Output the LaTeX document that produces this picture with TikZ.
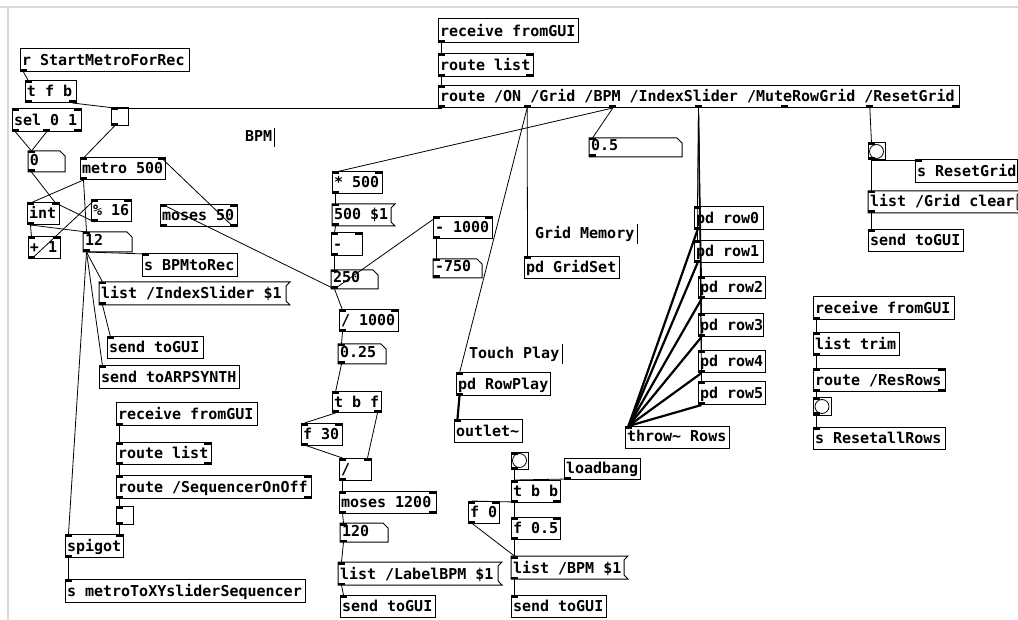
\documentclass[tikz,border=0pt]{standalone}
\usepackage{fontspec}
\setmonofont{DejaVu Sans Mono}
\usetikzlibrary{calc,fit}
\tikzset{
  hid/.style={inner sep=0pt, outer sep=0pt},
  box/.style={draw=black, line width=1pt},
  pdtxt/.style={anchor=base west, inner sep=0pt, outer sep=0pt, text=black, font=\fontsize{15}{15}\selectfont\ttfamily\bfseries},
  conn/.style={line width=0.8pt, draw=black},
  sig/.style={line width=2.2pt, draw=black},
  tab/.style={fill=black},
  frame/.style={draw=black!15, line width=2pt},
  cursor/.style={draw=black, line width=1pt},
}
\newcommand\pdnode[6]{\node[hid, fit={(#2,#3) (#4,#5)}] (#1) {};\node[pdtxt] (#1-t) at (#2+2,#5-6) {#6};}
\newcommand\pdio[3]{%
  \ifnum#2>0\relax
    \foreach \k in {1,...,#2}{%
      \pgfmathsetmacro\iot{(\k-1)/max(#2-1,1)}%
      \fill[tab] ($(#1.north west)!\iot!([xshift=-7pt]#1.north east)$) rectangle ++(7,2.5);}%
  \fi
  \ifnum#3>0\relax
    \foreach \k in {1,...,#3}{%
      \pgfmathsetmacro\iot{(\k-1)/max(#3-1,1)}%
      \fill[tab] ($(#1.south west)!\iot!([xshift=-7pt]#1.south east)$) rectangle ++(7,-2.5);}%
  \fi}
\newcommand\pdobj[8]{\pdnode{#1}{#2}{#3}{#4}{#5}{#6}\draw[box] (#1.north west) rectangle (#1.south east);\pdio{#1}{#7}{#8}}
\newcommand\pdmsg[6]{\pdnode{#1}{#2}{#3}{#4}{#5}{#6}\draw[box] (#1.north west) -- (#1.north east) -- ([xshift=-4pt,yshift=-4pt]#1.north east) -- ([xshift=-4pt,yshift=4pt]#1.south east) -- (#1.south east) -- (#1.south west) -- cycle;\pdio{#1}{1}{1}}
\newcommand\pdnum[6]{\pdnode{#1}{#2}{#3}{#4}{#5}{#6}\draw[box] (#1.north west) -- ([xshift=-5pt]#1.north east) -- ([yshift=-5pt]#1.north east) -- (#1.south east) -- (#1.south west) -- cycle;\pdio{#1}{1}{1}}
\newcommand\pdtgl[5]{\node[hid, fit={(#2,#3) (#4,#5)}] (#1) {};\draw[box] (#1.north west) rectangle (#1.south east);\pdio{#1}{1}{1}}
\newcommand\pdbng[5]{\node[hid, fit={(#2,#3) (#4,#5)}] (#1) {};\draw[box] (#1.north west) rectangle (#1.south east);\draw[line width=0.8pt] (#1.center) circle (7);\pdio{#1}{1}{1}}
\newcommand\pdcn[5][conn]{\draw[#1] ($(#2.south west)!#3!([xshift=-7pt]#2.south east)+(3.5,0)$) -- ($(#4.north west)!#5!([xshift=-7pt]#4.north east)+(3.5,0)$);}
\begin{document}
\begin{tikzpicture}[x=1pt,y=-1pt]
\useasboundingbox (0,0) rectangle (1018,620);
\draw[frame] (0,7) -- (1018,7);
\draw[frame] (8,7) -- (8,620);
% left cluster
\pdobj{rsm}{20}{49}{189}{72}{r StartMetroForRec}{0}{1}
\pdobj{tfb}{25}{81}{76}{103}{t f b}{1}{2}
\pdobj{sel}{12}{109}{81}{132}{sel 0 1}{2}{3}
\pdtgl{tgl1}{111}{108}{128}{126}
\pdnum{num0}{28}{151}{65}{172}{0}
\pdobj{metro}{80}{158}{165}{180}{metro 500}{2}{1}
\pdobj{int}{27}{203}{59}{225}{int}{2}{1}
\pdobj{mod}{91}{200}{131}{222}{\% 16}{2}{1}
\pdobj{plus}{28}{237}{60}{259}{+ 1}{2}{1}
\pdnum{n12}{83}{232}{132}{252}{12}
\pdobj{moses50}{160}{205}{237}{227}{moses 50}{2}{2}
\pdobj{sbpm}{142}{254}{237}{277}{s BPMtoRec}{1}{0}
\pdmsg{lidx}{99}{282}{290}{305}{list /IndexSlider \$1}
\pdobj{sgui1}{107}{337}{203}{359}{send toGUI}{1}{0}
\pdobj{sarp}{99}{366}{239}{389}{send toARPSYNTH}{1}{0}
\pdobj{rcv2}{116}{403}{257}{425}{receive fromGUI}{0}{1}
\pdobj{rl2}{116}{442}{211}{464}{route list}{2}{2}
\pdobj{rso}{116}{475}{311}{498}{route /SequencerOnOff}{2}{2}
\pdtgl{tgl2}{116}{506}{133}{524}
\pdobj{spig}{65}{534}{123}{557}{spigot}{2}{1}
\pdobj{smx}{65}{579}{305}{602}{s metroToXYsliderSequencer}{1}{0}
% centre
\pdobj{rcv1}{438}{19}{578}{43}{receive fromGUI}{0}{1}
\pdobj{rl1}{438}{54}{533}{77}{route list}{2}{2}
\pdobj{rte}{438}{86}{959}{108}{route /ON /Grid /BPM /IndexSlider /MuteRowGrid /ResetGrid}{1}{7}
\pdnum{n05}{589}{138}{682}{157}{0.5}
\pdobj{mul}{332}{172}{382}{194}{* 500}{2}{1}
\pdmsg{m500}{332}{204}{395}{226}{500 \$1}
\pdobj{minus}{331}{233}{362}{256}{-}{2}{1}
\pdnum{n250}{331}{270}{378}{289}{250}
\pdobj{m1000}{433}{217}{492}{239}{- 1000}{2}{1}
\pdnum{n750}{433}{259}{482}{278}{-750}
\pdobj{gridset}{524}{257}{619}{279}{pd GridSet}{1}{0}
\pdobj{div1000}{339}{310}{398}{332}{/ 1000}{2}{1}
\pdnum{n025}{338}{344}{386}{364}{0.25}
\pdobj{rowplay}{456}{373}{550}{396}{pd RowPlay}{1}{1}
\pdobj{tbf}{332}{392}{381}{413}{t b f}{1}{2}
\pdobj{f30}{301}{423}{342}{445}{f 30}{2}{1}
\pdobj{div}{339}{458}{371}{480}{/}{2}{1}
\pdobj{moses1200}{339}{491}{436}{513}{moses 1200}{2}{2}
\pdnum{n120}{340}{523}{388}{542}{120}
\pdmsg{llbpm}{338}{562}{502}{585}{list /LabelBPM \$1}
\pdobj{sgui2}{340}{595}{435}{617}{send toGUI}{1}{0}
\pdobj{outl}{454}{419}{522}{442}{outlet\textasciitilde}{1}{0}
\pdbng{bng2}{511}{452}{528}{469}
\pdobj{lb}{564}{458}{640}{479}{loadbang}{0}{1}
\pdobj{tbb}{511}{480}{560}{502}{t b b}{1}{2}
\pdobj{f0}{468}{501}{499}{523}{f 0}{2}{1}
\pdobj{f05}{511}{517}{560}{539}{f 0.5}{2}{1}
\pdmsg{lbpm}{511}{556}{628}{579}{list /BPM \$1}
\pdobj{sgui4}{511}{595}{606}{617}{send toGUI}{1}{0}
% right
\pdbng{bng1}{868}{143}{885}{160}
\pdobj{srg}{915}{160}{1017}{183}{s ResetGrid}{1}{0}
\pdmsg{lgc}{868}{191}{1021}{213}{list /Grid clear}
\pdobj{sgui3}{868}{230}{963}{252}{send toGUI}{1}{0}
\pdobj{row0}{694}{207}{763}{230}{pd row0}{1}{1}
\pdobj{row1}{694}{241}{763}{263}{pd row1}{1}{1}
\pdobj{row2}{698}{277}{765}{299}{pd row2}{1}{1}
\pdobj{row3}{698}{314}{763}{337}{pd row3}{1}{1}
\pdobj{row4}{698}{351}{765}{373}{pd row4}{1}{1}
\pdobj{row5}{698}{382}{765}{405}{pd row5}{1}{1}
\pdobj{throw}{625}{426}{729}{448}{throw\textasciitilde{} Rows}{1}{0}
\pdobj{rcv3}{813}{297}{954}{320}{receive fromGUI}{0}{1}
\pdobj{ltrim}{813}{333}{899}{356}{list trim}{1}{1}
\pdobj{rres}{813}{369}{945}{392}{route /ResRows}{2}{2}
\pdbng{bng3}{813}{398}{831}{415}
\pdobj{sra}{813}{427}{945}{449}{s ResetallRows}{1}{0}
% comments
\node[pdtxt] (cbpm) at (245,142) {BPM};
\draw[cursor] (274,128) -- (274,147);
\node[pdtxt] (cgrid) at (535,239) {Grid Memory};
\draw[cursor] (637,224) -- (637,244);
\node[pdtxt] (ctouch) at (469,359) {Touch Play};
\draw[cursor] (562,344) -- (562,364);
% connections left
\pdcn{rsm}{0}{tfb}{0}
\pdcn{tfb}{1}{tgl1}{0}
\pdcn{rte}{0}{tgl1}{0}
\pdcn{sel}{0}{num0}{0}
\pdcn{sel}{0.5}{num0}{0}
\pdcn{tgl1}{0}{metro}{0}
\pdcn{metro}{0}{int}{0}
\pdcn{num0}{0}{int}{1}
\pdcn{int}{0}{plus}{0}
\pdcn{plus}{0}{mod}{0}
\pdcn{mod}{0}{int}{1}
\pdcn{int}{0}{n12}{0}
\pdcn{metro}{0}{n12}{0}
\pdcn{n12}{0}{sbpm}{0}
\pdcn{n12}{0}{lidx}{0}
\pdcn{lidx}{0}{sgui1}{0}
\pdcn{n12}{0}{sarp}{0}
\pdcn{n12}{0}{spig}{0}
\pdcn{moses50}{1}{metro}{1}
\pdcn{n250}{0}{moses50}{0}
\pdcn{rcv2}{0}{rl2}{0}
\pdcn{rl2}{0}{rso}{0}
\pdcn{rso}{0}{tgl2}{0}
\pdcn{tgl2}{0}{spig}{1}
\pdcn{spig}{0}{smx}{0}
% centre
\pdcn{rcv1}{0}{rl1}{0}
\pdcn{rl1}{0}{rte}{0}
\pdcn{rte}{0.16667}{gridset}{0}
\pdcn{rte}{0.16667}{rowplay}{0}
\pdcn{rte}{0.33333}{mul}{0}
\pdcn{rte}{0.33333}{n05}{0}
\pdcn{mul}{0}{m500}{0}
\pdcn{m500}{0}{minus}{0}
\pdcn{minus}{0}{n250}{0}
\pdcn{n250}{0}{div1000}{0}
\pdcn{n250}{0}{m1000}{0}
\pdcn{m1000}{0}{n750}{0}
\pdcn{div1000}{0}{n025}{0}
\pdcn{n025}{0}{tbf}{0}
\pdcn{tbf}{0}{f30}{0}
\pdcn{tbf}{1}{div}{1}
\pdcn{f30}{0}{div}{0}
\pdcn{div}{0}{moses1200}{0}
\pdcn{moses1200}{0}{n120}{0}
\pdcn{n120}{0}{llbpm}{0}
\pdcn{llbpm}{0}{sgui2}{0}
\pdcn[sig]{rowplay}{0}{outl}{0}
\pdcn{bng2}{0}{tbb}{0}
\pdcn{lb}{0}{tbb}{0}
\pdcn{tbb}{0}{f0}{0}
\pdcn{tbb}{0}{f05}{0}
\pdcn{f05}{0}{lbpm}{0}
\pdcn{f0}{0}{lbpm}{0}
\pdcn{lbpm}{0}{sgui4}{0}
% rows
\foreach \r in {row0,row1,row2,row3,row4,row5}{\pdcn{rte}{0.5}{\r}{0}}
\foreach \r in {row0,row1,row2,row3,row4,row5}{\pdcn[sig]{\r}{0}{throw}{0}}
% right
\pdcn{rte}{0.83333}{bng1}{0}
\pdcn{bng1}{0}{srg}{0}
\pdcn{bng1}{0}{lgc}{0}
\pdcn{lgc}{0}{sgui3}{0}
\pdcn{rcv3}{0}{ltrim}{0}
\pdcn{ltrim}{0}{rres}{0}
\pdcn{rres}{0}{bng3}{0}
\pdcn{bng3}{0}{sra}{0}
\end{tikzpicture}
\end{document}
